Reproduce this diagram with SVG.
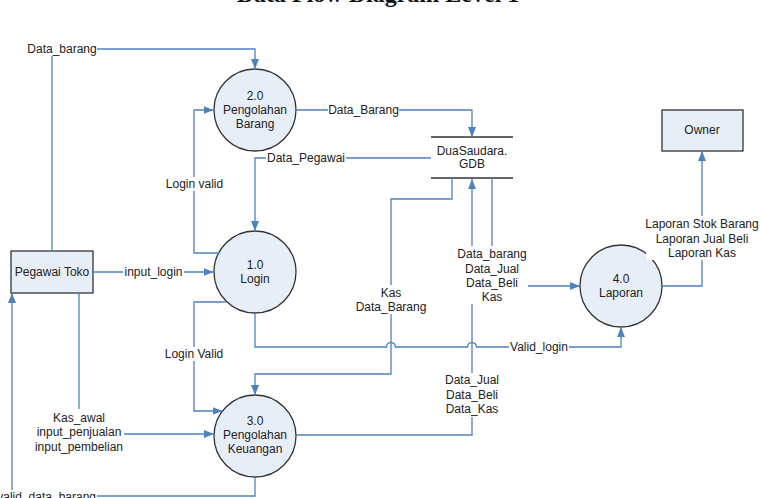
<svg xmlns="http://www.w3.org/2000/svg" width="761" height="498" viewBox="0 0 761 498">
<style>
text{font-family:"Liberation Sans",Arial,sans-serif;font-size:12px;fill:#222;text-anchor:middle;dominant-baseline:central}
.title{font-family:"Liberation Serif","Times New Roman",serif;font-size:24px;font-weight:bold;fill:#111;dominant-baseline:auto}
.proc{fill:#e8eef7;stroke:#333;stroke-width:1.3}
.ent{fill:#e8eef7;stroke:#333;stroke-width:1.3}
.store{stroke:#666;stroke-width:2;fill:none}
.flow{fill:none;stroke:#4f81bd;stroke-width:1.3}
.arr{marker-end:url(#ah)}
.bg{fill:#fff}
</style>
<defs>
<marker id="ah" markerWidth="10" markerHeight="8" refX="10" refY="4" orient="auto" markerUnits="userSpaceOnUse">
<path d="M0,0 L10,4 L0,8 z" fill="#4f81bd"/>
</marker>
</defs>
<rect width="761" height="498" fill="#fff"/>
<text class="title" x="378" y="2">Data Flow Diagram Level 1</text>

<g id="p2">
<circle class="proc" cx="255" cy="110" r="41"/>
<text x="255" y="96">2.0</text><text x="255" y="110">Pengolahan</text><text x="255" y="124">Barang</text>
</g>
<g id="p1">
<circle class="proc" cx="255" cy="272" r="41"/>
<text x="255" y="265">1.0</text><text x="255" y="279">Login</text>
</g>
<g id="p3">
<circle class="proc" cx="255" cy="436" r="41"/>
<text x="255" y="421">3.0</text><text x="255" y="435">Pengolahan</text><text x="255" y="449">Keuangan</text>
</g>
<g id="p4">
<circle class="proc" cx="621" cy="286" r="41"/>
<text x="621" y="279">4.0</text><text x="621" y="293">Laporan</text>
</g>
<g id="pegawai">
<rect class="ent" x="11" y="251" width="82" height="42"/>
<text x="52" y="272">Pegawai Toko</text>
</g>
<g id="owner">
<rect class="ent" x="662" y="110" width="81" height="41"/>
<text x="702" y="130">Owner</text>
</g>
<g id="store">
<line class="store" x1="431" y1="137" x2="513" y2="137"/>
<line class="store" x1="431" y1="178" x2="513" y2="178"/>
<text x="472" y="151">DuaSaudara.</text><text x="472" y="164">GDB</text>
</g>

<g id="connectors">
<path class="flow arr" d="M52,251 V49 H255 V69"/>
<path class="flow arr" d="M296,110 H472 V137"/>
<path class="flow arr" d="M431,158 H255 V231"/>
<path class="flow arr" d="M219,253 H194 V110 H213.5"/>
<path class="flow arr" d="M93,272 H213.5"/>
<path class="flow arr" d="M226,302 H194 V411 H222.5"/>
<path class="flow arr" d="M79,293 V434 H214"/>
<path class="flow arr" d="M255,477 V496 H12 V293"/>
<path class="flow arr" d="M296,435 H472 V179"/>
<path class="flow arr" d="M452,178 V199 H391 V374 H255 V395"/>
<path class="flow arr" d="M492,178 V286 H580"/>
<path class="flow arr" d="M255,313 V347 H386.5 a4.5,4.5 0 0 1 9,0 H467.5 a4.5,4.5 0 0 1 9,0 H621 V327"/>
<path class="flow arr" d="M662,286 H702 V151"/>

<rect class="bg" x="27" y="42" width="70" height="14"/>
<text x="62" y="49">Data_barang</text>
<rect class="bg" x="328" y="103" width="71" height="14"/>
<text x="363.5" y="110">Data_Barang</text>
<rect class="bg" x="266" y="151" width="80" height="14"/>
<text x="306" y="158">Data_Pegawai</text>
<rect class="bg" x="165" y="177" width="59" height="14"/>
<text x="194.5" y="184">Login valid</text>
<rect class="bg" x="123" y="265" width="61" height="14"/>
<text x="153.5" y="272">input_login</text>
<rect class="bg" x="164" y="347" width="60" height="14"/>
<text x="194" y="354">Login Valid</text>
<rect class="bg" x="35" y="409" width="89" height="45"/>
<text x="79" y="417.5">Kas_awal</text><text x="79" y="432">input_penjualan</text><text x="79" y="446.5">input_pembelian</text>
<rect class="bg" x="-6" y="490" width="103" height="14"/>
<text x="96" y="497" style="text-anchor:end">valid_data_barang</text>
<rect class="bg" x="444" y="373" width="56" height="44"/>
<text x="472" y="380">Data_Jual</text><text x="472" y="394.5">Data_Beli</text><text x="472" y="409">Data_Kas</text>
<rect class="bg" x="355" y="285" width="72" height="29"/>
<text x="391" y="293">Kas</text><text x="391" y="307">Data_Barang</text>
<rect class="bg" x="456" y="246" width="72" height="58"/>
<text x="492" y="254">Data_barang</text><text x="492" y="268.5">Data_Jual</text><text x="492" y="283">Data_Beli</text><text x="492" y="297">Kas</text>
<rect class="bg" x="509" y="340" width="60" height="14"/>
<text x="539" y="347">Valid_login</text>
<rect class="bg" x="646" y="216" width="104" height="44"/>
<text x="702" y="224">Laporan Stok Barang</text><text x="702" y="238.5">Laporan Jual Beli</text><text x="702" y="252.5">Laporan Kas</text>
</g>
</svg>
